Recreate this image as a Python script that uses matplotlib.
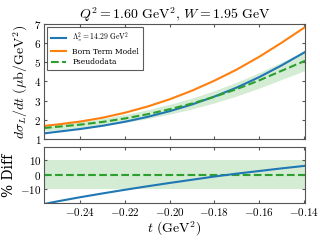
import matplotlib
matplotlib.use("Agg")
import matplotlib.pyplot as plt
import numpy as np

# values
t_vals = [-0.2563, -0.25, -0.24, -0.23, -0.22, -0.21, -0.20, -0.19, -0.18, -0.17, -0.16, -0.15, -0.1393]
lambda_fit = [1.29, 1.38, 1.52, 1.69, 1.90, 2.15, 2.45, 2.80, 3.21, 3.68, 4.22, 4.83, 5.54]
born_model = [1.68, 1.76, 1.91, 2.11, 2.37, 2.69, 3.07, 3.52, 4.04, 4.62, 5.28, 6.01, 6.84]
pseudodata = [1.57, 1.64, 1.75, 1.89, 2.07, 2.29, 2.55, 2.85, 3.20, 3.60, 4.05, 4.55, 5.08]
pct_diff = [-20.0, -18.1, -15.3, -12.7, -10.2, -7.8, -5.5, -3.3, -1.1, 0.9, 2.7, 4.5, 6.3]
band_pct = 10.0
tick_pos = [-0.24, -0.22, -0.20, -0.18, -0.16, -0.14]
tick_lab = ['$-0.24$', '$-0.22$', '$-0.20$', '$-0.18$', '$-0.16$', '$-0.14$']

plt.rcParams['font.family'] = ['DejaVu Serif']
plt.rcParams['mathtext.fontset'] = 'cm'
plt.rcParams['xtick.direction'] = 'in'
plt.rcParams['ytick.direction'] = 'in'
plt.rcParams['xtick.top'] = True
plt.rcParams['ytick.right'] = True

fig = plt.figure(figsize=(3.2, 2.4), dpi=100)
ax1 = fig.add_axes([0.1375, 0.421, 0.816, 0.479])
ax2 = fig.add_axes([0.1375, 0.153, 0.816, 0.236])

t = np.array(t_vals)
pd_arr = np.array(pseudodata)

# top panel: cross sections
ax1.fill_between(t, pd_arr * (1 - band_pct / 100), pd_arr * (1 + band_pct / 100),
                 color='C2', alpha=0.2, lw=0)
ax1.plot(t, lambda_fit, color='C0', lw=1.5, label=r'$\Lambda_\pi^2 = 14.29\ \mathrm{GeV}^2$')
ax1.plot(t, born_model, color='C1', lw=1.5, label='Born Term Model')
ax1.plot(t, pseudodata, color='C2', lw=1.5, ls='--', label='Pseudodata')
ax1.set_xlim(t_vals[0], t_vals[-1])
ax1.set_ylim(1, 7)
ax1.set_yticks([1, 2, 3, 4, 5, 6, 7])
ax1.set_yticklabels(['$%d$' % v for v in range(1, 8)])
ax1.set_xticks(tick_pos)
ax1.tick_params(labelbottom=False, labelsize=8, length=2.5, color='#555555', pad=2)
ax1.set_ylabel(r'$d\sigma_L/dt\ (\mu\mathrm{b/GeV}^2)$', fontsize=10, labelpad=3)
ax1.set_title(r'$Q^2 = 1.60\ \mathrm{GeV}^2,\, W = 1.95\ \mathrm{GeV}$', fontsize=10, pad=3)
leg = ax1.legend(loc='upper left', fontsize=5.5, frameon=True, fancybox=False,
                 handlelength=2.0, borderpad=0.5, labelspacing=0.35, borderaxespad=0.4)
leg.get_frame().set_edgecolor('#333333')
leg.get_frame().set_linewidth(0.8)

# bottom panel: percent difference
ax2.fill_between(t, -band_pct, band_pct, color='C2', alpha=0.2, lw=0)
ax2.axhline(0, color='C2', lw=1.5, ls='--')
ax2.plot(t, pct_diff, color='C0', lw=1.5)
ax2.set_xlim(t_vals[0], t_vals[-1])
ax2.set_ylim(-19.5, 19.5)
ax2.set_yticks([-10, 0, 10])
ax2.set_yticklabels(['$-10$', '$0$', '$10$'])
ax2.set_xticks(tick_pos)
ax2.set_xticklabels(tick_lab)
ax2.tick_params(labelsize=8, length=2.5, color='#555555', pad=2)
ax2.set_ylabel('% Diff', fontsize=10, labelpad=3)
ax2.set_xlabel(r'$t\ (\mathrm{GeV}^2)$', fontsize=10, labelpad=1)

for ax in (ax1, ax2):
    for s in ax.spines.values():
        s.set_color('#555555')
        s.set_linewidth(0.8)

fig.savefig('out.png', dpi=100)
